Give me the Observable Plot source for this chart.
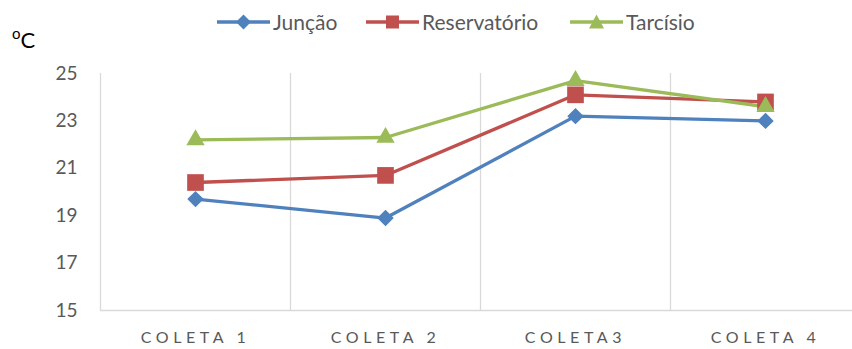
<!DOCTYPE html>
<html><head><meta charset="utf-8">
<script src="https://cdn.jsdelivr.net/npm/d3@7"></script>
<script src="https://cdn.jsdelivr.net/npm/@observablehq/plot@0.6"></script>
<style>
body{margin:0;background:#fff;font-family:Lato,"Open Sans",sans-serif;}
#wrap{position:relative;width:852px;height:349px;overflow:hidden;}
#legend{position:absolute;top:0;left:0;width:852px;height:40px;font-size:21px;color:#595959;}
#legend .item{position:absolute;top:9px;display:flex;align-items:center;}
#legend .item span{margin-left:3px;}
#unit{position:absolute;left:12px;top:29px;font-size:22px;color:#000;line-height:1;}
#unit sup{font-size:15px;vertical-align:0;position:relative;top:-9px;}
#chart svg g[aria-label="x-axis tick label"] text{letter-spacing:4.6px;}
</style></head><body>
<div id="wrap"><div id="chart"></div><div id="legend"></div><div id="unit"><sup>o</sup>C</div></div>
<script>
const categories = ["COLETA 1", "COLETA 2", "COLETA3", "COLETA 4"];
const seriesNames = ["Junção", "Reservatório", "Tarcísio"];
const juncao = [19.7, 18.9, 23.2, 23.0];
const reservatorio = [20.4, 20.7, 24.1, 23.8];
const tarcisio = [22.2, 22.3, 24.7, 23.6];
const yTicks = [15, 17, 19, 21, 23, 25];
const colors = ["#4f81bd", "#c0504d", "#9bbb59"];
const symbols = ["diamond2", "square", "triangle"];
const radii = [7.4, 9.4, 6.8];

const seriesValues = [juncao, reservatorio, tarcisio];
const rows = [];
seriesNames.forEach((s, k) => seriesValues[k].forEach((v, i) => rows.push({series: s, pos: i + 0.5, value: v})));
const bounds = d3.range(categories.length + 1);

const dotMarks = seriesNames.map((s, k) =>
  Plot.dot(rows.filter(r => r.series === s), {x: "pos", y: "value", symbol: () => symbols[k], r: radii[k], fill: colors[k], stroke: "none"})
);

const chart = Plot.plot({
  width: 852,
  height: 349,
  marginLeft: 100,
  marginRight: 0,
  marginTop: 73,
  marginBottom: 39,
  style: {fontFamily: "Lato, 'Open Sans', sans-serif", background: "#fff"},
  x: {type: "linear", domain: [0, categories.length], range: [100, 860]},
  y: {domain: [15, 25], range: [310, 73]},
  color: {domain: seriesNames, range: colors},
  symbol: {type: "identity"},
  marks: [
    Plot.ruleX(bounds, {y1: 15, y2: 25, stroke: "#d9d9d9", strokeWidth: 1.3}),
    Plot.ruleY([15], {x1: 0, x2: categories.length, stroke: "#d9d9d9", strokeWidth: 1.3}),
    Plot.axisY({ticks: yTicks, tickSize: 0, tickPadding: 23, fontSize: 19, fill: "#595959", label: null}),
    Plot.axisX({ticks: categories.map((c, i) => i + 0.5), tickFormat: d => categories[Math.round(d - 0.5)], tickSize: 0, tickPadding: 21, fontSize: 16, fill: "#595959", label: null}),
    Plot.line(rows, {x: "pos", y: "value", z: "series", stroke: "series", strokeWidth: 3.3}),
    ...dotMarks
  ]
});
document.getElementById("chart").appendChild(chart);

// legend
const legend = document.getElementById("legend");
const legendLeft = [217, 366, 570];
const legendSymbols = [
  () => `<path d="M26.5,3.5 L34,11 L26.5,18.5 L19,11 Z" fill="${colors[0]}"/>`,
  () => `<rect x="20" y="4.5" width="13" height="13" fill="${colors[1]}"/>`,
  () => `<path d="M26.5,3.5 L34,17.5 L19,17.5 Z" fill="${colors[2]}"/>`
];
seriesNames.forEach((s, k) => {
  const item = document.createElement("div");
  item.className = "item";
  item.style.left = legendLeft[k] + "px";
  item.innerHTML = `<svg width="53" height="22"><line x1="0" x2="53" y1="11" y2="11" stroke="${colors[k]}" stroke-width="3.3"/>${legendSymbols[k]()}</svg><span>${s}</span>`;
  legend.appendChild(item);
});
</script>
</body></html>
